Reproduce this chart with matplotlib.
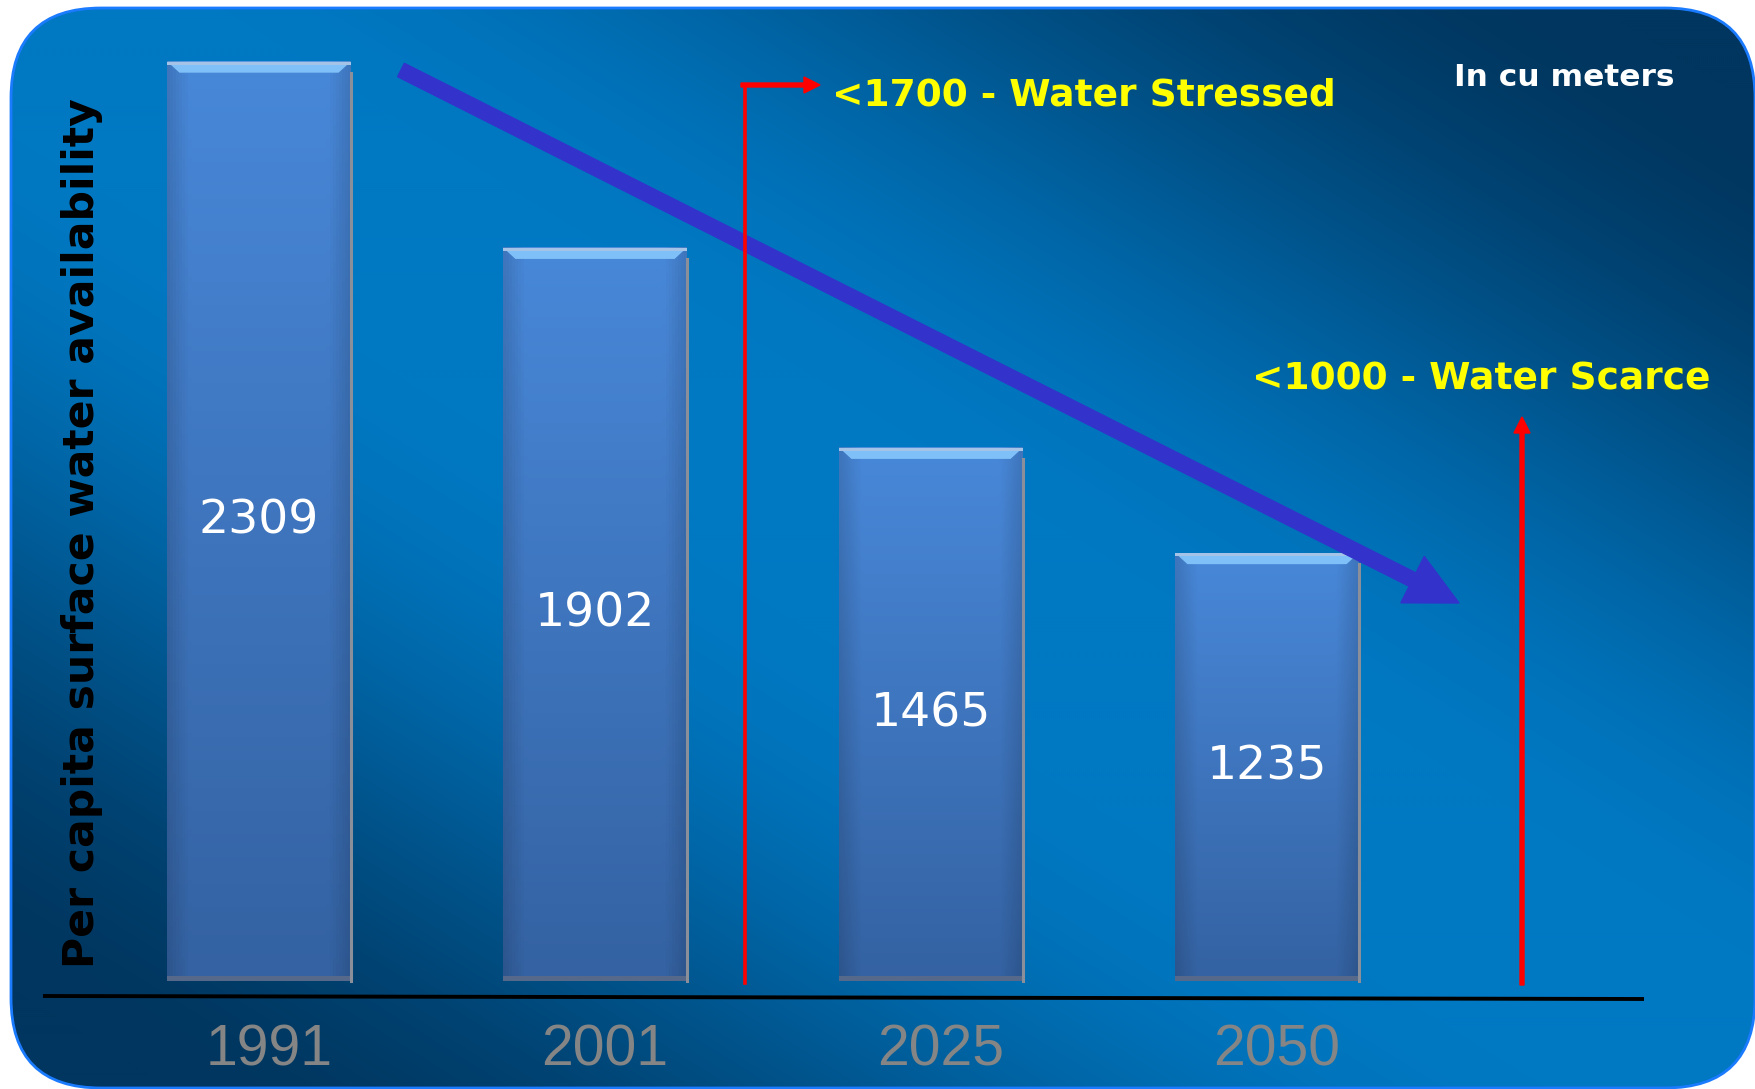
"""
Per capita surface water availability - bar chart on a blue slide panel
"""

import matplotlib as mpl
import matplotlib.pyplot as plt
import matplotlib.transforms as mtransforms
import numpy as np
from matplotlib.patches import FancyArrow, FancyBboxPatch, Polygon, Rectangle

mpl.use("Agg")

# Data
years = ["1991", "2001", "2025", "2050"]
availability = [2309, 1902, 1465, 1235]
y_label = "Per capita surface water availability"
unit_note = "In cu meters"
stressed_note = "<1700 - Water Stressed"
scarce_note = "<1000 - Water Scarce"

W, H = 1756, 1089
fig = plt.figure(figsize=(W / 100, H / 100), dpi=100)
fig.patch.set_facecolor("white")

# Background panel (pixel coords, y pointing down)
bg = fig.add_axes([0, 0, 1, 1])
bg.axis("off")

gy, gx = np.mgrid[0:H:2, 0:W:2]
d = np.abs(gx / W - gy / H)
t = np.clip((d - 0.12) / 0.78, 0, 1)
t = t * t * (3 - 2 * t)
bright = np.array([0x00, 0x78, 0xC2]) / 255
dark = np.array([0x00, 0x36, 0x5F]) / 255
grad = bright * (1 - t[..., None]) + dark * t[..., None]

panel = FancyBboxPatch(
    (11, 8), W - 12, H - 9, boxstyle="round,pad=0,rounding_size=90",
    facecolor="none", edgecolor="#1A7BFF", linewidth=2, zorder=3,
)
bg.add_patch(panel)
img = bg.imshow(grad, extent=(0, W, H, 0), aspect="auto", zorder=1)
img.set_clip_path(panel)
bg.set_xlim(0, W)
bg.set_ylim(H, 0)

# Chart axes: bars in data coords
ax = fig.add_axes([0, 0, 1, 1])
ax.patch.set_visible(False)
ax.axis("off")

base = 300
px_per_val = 0.4576
step_px = 336
first_px = 259
x = np.arange(len(years))
bars = ax.bar(x, np.array(availability) - base, bottom=base, width=0.545,
              color="#4282D2", zorder=2)

# bar shading
col_top = np.array([0x48, 0x88, 0xD9]) / 255
col_bot = np.array([0x34, 0x62, 0xA2]) / 255
rows = np.linspace(0, 1, 200)[:, None, None]
vert = col_top * (1 - rows) + col_bot * rows
cols = np.linspace(0, 1, 60)
edge = np.clip(np.minimum(cols, 1 - cols) / 0.12, 0, 1)
shade = 0.87 + 0.13 * edge
bar_img = vert * shade[None, :, None]

hl = 11 / px_per_val
dx = 12 / step_px
for p, v in zip(bars, availability):
    x0, w, y0, h = p.get_x(), p.get_width(), p.get_y(), p.get_height()
    top = y0 + h
    ax.imshow(bar_img, extent=(x0, x0 + w, y0, top), aspect="auto", zorder=3)
    ax.add_patch(Polygon([(x0, top), (x0 + w, top), (x0 + w - dx, top - hl), (x0 + dx, top - hl)],
                         closed=True, facecolor="#80C0F8", edgecolor="none", zorder=4))
    ax.add_patch(Rectangle((x0, top - 3 / px_per_val), w, 3 / px_per_val,
                           facecolor="#A4C3E6", edgecolor="none", zorder=5))
    ax.add_patch(Rectangle((x0, y0), w, 5 / px_per_val,
                           facecolor="#56698A", edgecolor="none", zorder=4))
    ax.plot([x0 + w, x0 + w], [y0, top - hl], color="#8A8F99", lw=2.2, zorder=4)
    ax.text(p.get_x() + w / 2, y0 + h / 2, str(v), color="white", fontsize=34,
            ha="center", va="center", zorder=6)

ax.set_xlim(-first_px / step_px, (W - first_px) / step_px)
ax.set_ylim(base - (H - 981) / px_per_val, base + 981 / px_per_val)

# Overlay: annotations in pixel coords
ov = fig.add_axes([0, 0, 1, 1])
ov.patch.set_visible(False)
ov.axis("off")
ov.set_xlim(0, W)
ov.set_ylim(H, 0)

# x axis line
ov.plot([43, 1644], [996, 999], color="black", lw=2.8, solid_capstyle="butt")

# year labels
trans = mtransforms.blended_transform_factory(ax.transData, ov.transData)
for xi, yr in zip(x, years):
    ov.text(xi + 10 / step_px, 1065, yr, transform=trans, ha="center", va="baseline",
            fontsize=41, color="#858585", family="Liberation Sans")

# threshold markers
red = "#FF0000"
ov.plot([745, 745], [983, 85], color=red, lw=2.6)
ov.add_patch(FancyArrow(741, 85, 79, 0, width=4, head_width=16, head_length=16,
                        length_includes_head=True, color=red))
ov.add_patch(FancyArrow(1522, 985, 0, 417 - 985, width=4, head_width=16, head_length=16,
                        length_includes_head=True, color=red))

# trend arrow
ov.add_patch(FancyArrow(401, 70, 1459 - 401, 603 - 70, width=15, head_width=52,
                        head_length=52, length_includes_head=True, color="#3333CC"))

ov.text(832, 105, stressed_note, ha="left", va="baseline", fontsize=27,
        fontweight="bold", color="#FFFF00")
ov.text(1252, 390, scarce_note, ha="left", va="baseline", fontsize=27,
        fontweight="bold", color="#FFFF00")
ov.text(1454, 86, unit_note, ha="left", va="baseline", fontsize=22.5,
        fontweight="bold", color="white")
ov.text(82, 533, y_label, rotation=90, ha="center", va="center", fontsize=30.6,
        fontweight="bold", color="black")

plt.savefig("out.png", dpi=100, facecolor="white")
